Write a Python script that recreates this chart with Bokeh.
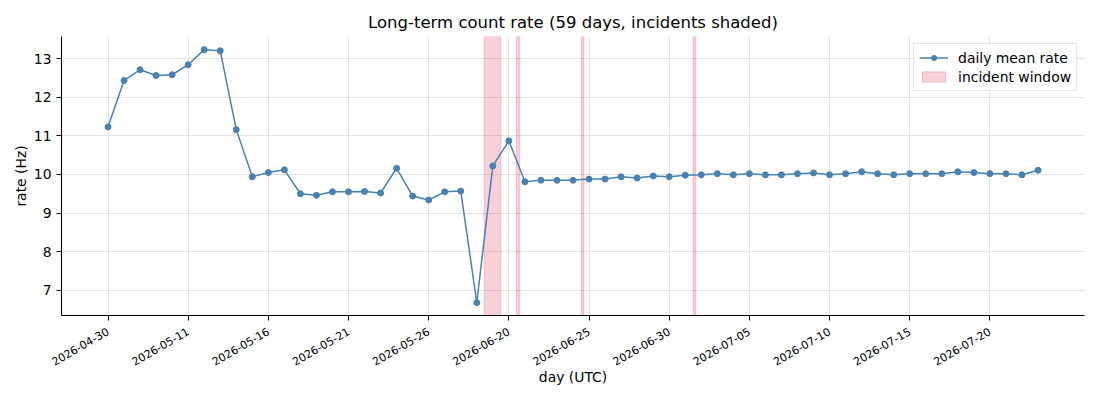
import math
from bokeh.plotting import figure
from bokeh.models import Range1d, FixedTicker, Legend, LegendItem, ColumnDataSource
from bokeh.embed import file_html
from bokeh.resources import INLINE

days = [
    "2026-04-30", "2026-05-07", "2026-05-08", "2026-05-09", "2026-05-10",
    "2026-05-11", "2026-05-12", "2026-05-13", "2026-05-14", "2026-05-15",
    "2026-05-16", "2026-05-17", "2026-05-18", "2026-05-19", "2026-05-20",
    "2026-05-21", "2026-05-22", "2026-05-23", "2026-05-24", "2026-05-25",
    "2026-05-26", "2026-05-27", "2026-05-28", "2026-05-29", "2026-06-19",
    "2026-06-20", "2026-06-21", "2026-06-22", "2026-06-23", "2026-06-24",
    "2026-06-25", "2026-06-26", "2026-06-27", "2026-06-28", "2026-06-29",
    "2026-06-30", "2026-07-01", "2026-07-02", "2026-07-03", "2026-07-04",
    "2026-07-05", "2026-07-06", "2026-07-07", "2026-07-08", "2026-07-09",
    "2026-07-10", "2026-07-11", "2026-07-12", "2026-07-13", "2026-07-14",
    "2026-07-15", "2026-07-16", "2026-07-17", "2026-07-18", "2026-07-19",
    "2026-07-20", "2026-07-21", "2026-07-22", "2026-07-23",
]

rate = [
    11.23, 12.43, 12.71, 12.56, 12.58, 12.84, 13.23, 13.20, 11.16, 9.94,
    10.05, 10.12, 9.50, 9.46, 9.55, 9.55, 9.56, 9.52, 10.16, 9.44,
    9.34, 9.55, 9.57, 6.68, 10.22, 10.87, 9.81, 9.85, 9.85, 9.85,
    9.88, 9.88, 9.94, 9.91, 9.96, 9.94, 9.98, 9.99, 10.02, 9.99,
    10.02, 9.99, 9.99, 10.02, 10.04, 9.99, 10.02, 10.07, 10.02, 9.99,
    10.02, 10.02, 10.02, 10.07, 10.05, 10.02, 10.02, 9.99, 10.11,
]

# incident windows, in day-index position
incident_start = [23.46, 25.47, 29.53, 36.49]
incident_end = [24.50, 25.68, 29.67, 36.66]

tick_idx = list(range(0, len(days), 5))

x = list(range(len(days)))
y_lo, y_hi = 6.35, 13.57

p = figure(
    width=1092, height=392,
    output_backend="svg", toolbar_location=None,
    x_range=Range1d(-2.9, 60.9), y_range=Range1d(y_lo, y_hi),
    min_border_left=61, min_border_right=8, min_border_top=36, min_border_bottom=77,
    title="Long-term count rate (59 days, incidents shaded)",
)
p.outline_line_color = None
p.background_fill_color = "white"

p.title.text_font = "DejaVu Sans"
p.title.text_font_size = "16.5px"
p.title.text_font_style = "normal"
p.title.align = "center"
p.title.text_color = "black"

src_inc = ColumnDataSource(dict(
    left=incident_start, right=incident_end,
    bottom=[y_lo] * len(incident_start), top=[y_hi] * len(incident_start),
))
r_inc = p.quad(left="left", right="right", bottom="bottom", top="top", source=src_inc,
               fill_color="crimson", fill_alpha=0.2,
               line_color="crimson", line_alpha=0.2, line_width=1)

src = ColumnDataSource(dict(x=x, y=rate))
r_line = p.line("x", "y", source=src, line_color="steelblue", line_width=1.5)
r_pts = p.scatter("x", "y", source=src, size=6, fill_color="steelblue", line_color="steelblue")

legend = Legend(items=[
    LegendItem(label="daily mean rate", renderers=[r_line, r_pts]),
    LegendItem(label="incident window", renderers=[r_inc]),
], location="top_right")
legend.label_text_font = "DejaVu Sans"
legend.label_text_font_size = "13.9px"
legend.label_text_color = "black"
legend.glyph_width = 29
legend.glyph_height = 13
legend.label_height = 17
legend.label_standoff = 10
legend.spacing = 2
legend.padding = 5
legend.margin = 7
legend.border_line_color = "#cccccc"
legend.border_line_width = 1
legend.background_fill_alpha = 0.8
p.add_layout(legend)

p.xaxis.ticker = FixedTicker(ticks=tick_idx)
p.xaxis.major_label_overrides = {i: days[i] for i in tick_idx}
p.xaxis.major_label_orientation = math.pi / 6
p.xaxis.major_label_standoff = 10
p.yaxis.ticker = FixedTicker(ticks=[7, 8, 9, 10, 11, 12, 13])

for ax in (p.xaxis, p.yaxis):
    ax.axis_line_color = "black"
    ax.axis_line_width = 1.1
    ax.major_tick_line_color = "black"
    ax.major_tick_out = 5
    ax.major_tick_in = 0
    ax.minor_tick_line_color = None
    ax.major_label_text_font = "DejaVu Sans"
    ax.major_label_text_color = "black"
    ax.axis_label_text_font = "DejaVu Sans"
    ax.axis_label_text_font_size = "13.9px"
    ax.axis_label_text_font_style = "normal"
    ax.axis_label_text_color = "black"

p.xaxis.major_label_text_font_size = "11px"
p.yaxis.major_label_text_font_size = "13.9px"
p.xaxis.axis_label = "day (UTC)"
p.yaxis.axis_label = "rate (Hz)"
p.xaxis.axis_label_standoff = -3
p.yaxis.axis_label_standoff = 2

p.xgrid.grid_line_color = "#e3e3e3"
p.ygrid.grid_line_color = "#e3e3e3"
p.xgrid.grid_line_width = 1
p.ygrid.grid_line_width = 1

open("out.html", "w").write(file_html(p, INLINE))
